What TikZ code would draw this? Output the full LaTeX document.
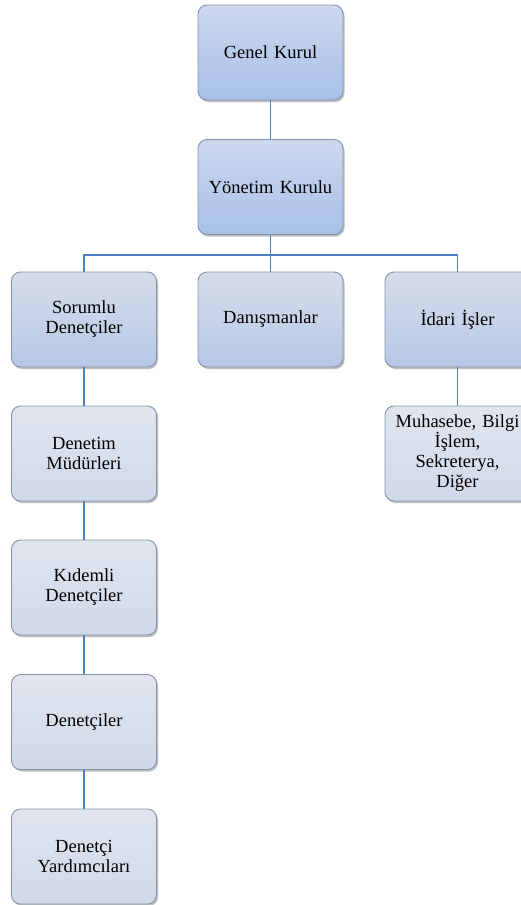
\documentclass[tikz,border=0pt]{standalone}
\usepackage{fontspec}
\setmainfont{Liberation Serif}
\newfontfamily\tnrfont{Liberation Serif}
\usetikzlibrary{shadows}
\definecolor{linkblue}{HTML}{4F81BD}
\definecolor{boxborder}{HTML}{8593A8}
\definecolor{topA}{HTML}{CCD8EE}
\definecolor{botA}{HTML}{A8C0E9}
\definecolor{topB}{HTML}{D6DDEA}
\definecolor{botB}{HTML}{B6C8E6}
\definecolor{topC}{HTML}{E0E5EE}
\definecolor{botC}{HTML}{D0D9EA}
\tikzset{
  orgbox/.style={rectangle, rounded corners=9pt, draw=boxborder, line width=0.9pt,
    minimum width=145pt, minimum height=95pt, text width=138pt, align=center,
    font=\tnrfont\fontsize{18.5}{20}\selectfont,
    drop shadow={shadow xshift=1.5pt, shadow yshift=-2pt, opacity=0.25, fill=black}},
  lvlA/.style={orgbox, top color=topA, bottom color=botA},
  lvlB/.style={orgbox, top color=topB, bottom color=botB},
  lvlC/.style={orgbox, top color=topC, bottom color=botC},
  link/.style={draw=linkblue, line width=1.8pt}
}
\begin{document}
\begin{tikzpicture}[x=1pt,y=-1pt]
\useasboundingbox (0,0) rectangle (521,905);
\clip (0,0) rectangle (521,905);
\node[lvlA] (gk) at (270.5,52.5) {Genel Kurul};
\node[lvlA] (yk) at (270.5,187) {Yönetim Kurulu};
\node[lvlB] (sd) at (84,319.5) {Sorumlu\\Denetçiler};
\node[lvlB] (dn) at (270.5,319.5) {Danışmanlar};
\node[lvlB] (ii) at (457.5,319.5) {İdari İşler};
\node[lvlC] (mb) at (457.5,453.5) {Muhasebe, Bilgi\\İşlem,\\Sekreterya,\\Diğer};
\node[lvlC] (dm) at (84,453.5) {Denetim\\Müdürleri};
\node[lvlC] (kd) at (84,587.5) {Kıdemli\\Denetçiler};
\node[lvlC] (de) at (84,722) {Denetçiler};
\node[lvlC] (dy) at (84,856.5) {Denetçi\\Yardımcıları};
\coordinate (bus) at (270.5,255);
\path[link] (gk) -- (yk);
\path[link] (yk) -- (bus);
\path[link] (bus) -| (sd);
\path[link] (bus) -| (ii);
\path[link] (bus) -- (dn);
\path[link] (ii) -- (mb);
\path[link] (sd) -- (dm);
\path[link] (dm) -- (kd);
\path[link] (kd) -- (de);
\path[link] (de) -- (dy);
\end{tikzpicture}
\end{document}
